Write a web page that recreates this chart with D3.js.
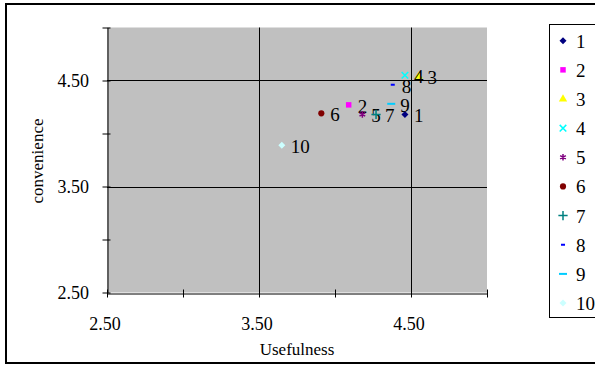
<!DOCTYPE html>
<html>
<head>
<meta charset="utf-8">
<script src="https://cdn.jsdelivr.net/npm/d3@7"></script>
<style>
  body { margin: 0; background: #fff; }
  text { font-family: "Liberation Serif", "DejaVu Serif", serif; fill: #000; }
</style>
</head>
<body>
<svg id="chart" width="595" height="365"></svg>
<script>
// series data
const names = ["1", "2", "3", "4", "5", "6", "7", "8", "9", "10"]
const usefulness = [4.46, 4.09, 4.55, 4.46, 4.18, 3.91, 4.27, 4.38, 4.37, 3.65]
const convenience = [4.18, 4.27, 4.54, 4.55, 4.18, 4.19, 4.18, 4.46, 4.28, 3.89]

const xTicks = [2.5, 3.0, 3.5, 4.0, 4.5, 5.0]
const yTicks = [2.5, 3.0, 3.5, 4.0, 4.5, 5.0]
const tickLabels = [2.5, 3.5, 4.5]

// marker styling (excel 2003 default series look)
const colors = ["#000080", "#ff00ff", "#ffff00", "#00ffff", "#800080",
                "#800000", "#008080", "#0000ff", "#00ccff", "#ccffff"]
const shapes = ["diamond", "square", "triangle", "times", "asterisk",
                "circle", "plus", "dashS", "dashL", "diamond"]

const svg = d3.select("#chart")

// outer chart frame
svg.append("rect")
    .attr("x", 6).attr("y", 4)
    .attr("width", 600).attr("height", 359)
    .attr("fill", "#fff")
    .attr("stroke", "#000").attr("stroke-width", 2)

const x = d3.scaleLinear().domain([2.5, 5]).range([107, 487])
const y = d3.scaleLinear().domain([2.5, 5]).range([292.5, 27.5])

// plot area
svg.append("rect")
    .attr("x", x(2.5)).attr("y", y(5))
    .attr("width", x(5) - x(2.5)).attr("height", y(2.5) - y(5))
    .attr("fill", "#c0c0c0")

// gridlines at the major unit
const grid = svg.append("g").attr("stroke", "#000").attr("stroke-width", 1)
grid.selectAll(".gx").data(tickLabels.slice(1)).enter().append("line")
    .attr("x1", d => Math.round(x(d)) + 0.5).attr("x2", d => Math.round(x(d)) + 0.5)
    .attr("y1", y(5)).attr("y2", y(2.5))
grid.selectAll(".gy").data(tickLabels.slice(1)).enter().append("line")
    .attr("y1", d => Math.round(y(d)) + 0.5).attr("y2", d => Math.round(y(d)) + 0.5)
    .attr("x1", x(2.5)).attr("x2", x(5))

// axes
const fmt = d3.format(".2f")
const xAxis = svg.append("g")
    .attr("transform", "translate(0," + (Math.round(y(2.5)) + 0.5) + ")")
    .call(d3.axisBottom(x).tickValues(xTicks).tickSize(0).tickFormat(""))
const yAxis = svg.append("g")
    .attr("transform", "translate(" + (x(2.5) + 0.5) + ",0)")
    .call(d3.axisLeft(y).tickValues(yTicks).tickSize(0).tickFormat(""))

for (const ax of [xAxis, yAxis]) {
    ax.select(".domain").attr("stroke", "#000")
}
// cross ticks
xAxis.selectAll(".tick line").attr("y1", -4).attr("y2", 4).attr("stroke", "#000")
yAxis.selectAll(".tick line").attr("x1", -5).attr("x2", 3).attr("stroke", "#000")

svg.append("g").selectAll("text").data(tickLabels).enter().append("text")
    .attr("x", d => x(d) - 2).attr("y", 330)
    .attr("text-anchor", "middle")
    .style("font-size", "18px")
    .text(fmt)

svg.append("g").selectAll("text").data(tickLabels).enter().append("text")
    .attr("x", 89).attr("y", d => y(d) + 6)
    .attr("text-anchor", "end")
    .style("font-size", "18px")
    .text(fmt)

svg.append("text")
    .attr("x", 297).attr("y", 355)
    .attr("text-anchor", "middle")
    .style("font-size", "17px")
    .text("Usefulness")

svg.append("text")
    .attr("transform", "translate(43,161) rotate(-90)")
    .attr("text-anchor", "middle")
    .style("font-size", "17px")
    .text("convenience")

// marker generator
function markerPath(shape) {
    if (shape === "dashS") return "M-2,-1H2V1H-2Z"
    if (shape === "dashL") return "M-4,-1H4V1H-4Z"
    if (shape === "diamond") return "M0,-3.5L3.5,0L0,3.5L-3.5,0Z"
    const types = {
        square: [d3.symbolSquare, 30],
        triangle: [d3.symbolTriangle, 30],
        times: [d3.symbolTimes, 30],
        asterisk: [d3.symbolAsterisk, 30],
        circle: [d3.symbolCircle, 30],
        plus: [d3.symbolPlus, 30]
    }
    const t = types[shape]
    return d3.symbol().type(t[0]).size(t[1])()
}
function isStroked(shape) {
    return shape === "times" || shape === "asterisk" || shape === "plus"
}

const points = names.map((n, i) => ({name: n, x: usefulness[i], y: convenience[i], i: i}))

const pts = svg.append("g").selectAll("g").data(points).enter().append("g")
    .attr("transform", d => "translate(" + x(d.x) + "," + y(d.y) + ")")

pts.append("path")
    .attr("d", d => markerPath(shapes[d.i]))
    .attr("fill", d => isStroked(shapes[d.i]) ? "none" : colors[d.i])
    .attr("stroke", d => isStroked(shapes[d.i]) ? colors[d.i] : "none")
    .attr("stroke-width", 1.5)

pts.append("text")
    .attr("x", 9).attr("y", 8)
    .style("font-size", "19px")
    .text(d => d.name)

// legend
svg.append("rect")
    .attr("x", 549.5).attr("y", 24.5)
    .attr("width", 60).attr("height", 293)
    .attr("fill", "#fff")
    .attr("stroke", "#000").attr("stroke-width", 1)

const leg = svg.append("g").selectAll("g").data(points).enter().append("g")
    .attr("transform", d => "translate(563," + (40.7 + d.i * 29.15) + ")")

leg.append("path")
    .attr("d", d => markerPath(shapes[d.i]))
    .attr("fill", d => isStroked(shapes[d.i]) ? "none" : colors[d.i])
    .attr("stroke", d => isStroked(shapes[d.i]) ? colors[d.i] : "none")
    .attr("stroke-width", 1.5)

leg.append("text")
    .attr("x", 13).attr("y", 7)
    .style("font-size", "19px")
    .text(d => d.name)
</script>
</body>
</html>
